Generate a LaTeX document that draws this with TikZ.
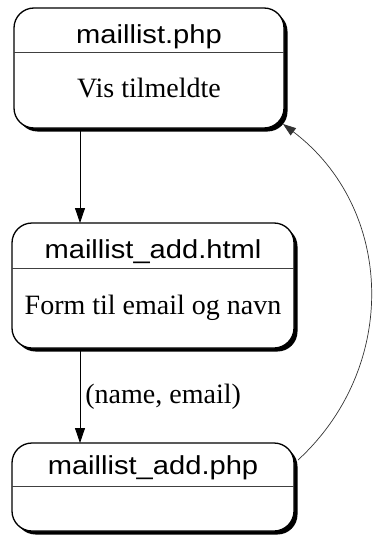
\documentclass[tikz,border=0pt]{standalone}
\usepackage{fontspec}
\setmainfont{Liberation Serif}
\newfontfamily\titlefont[FakeStretch=1.12]{Liberation Sans}
\usetikzlibrary{arrows.meta,shadows,calc}
\tikzset{
  statebox/.style={draw=black, line width=1.3pt, rounded corners=20pt, fill=white,
    inner sep=0pt, outer sep=0pt,
    drop shadow={shadow xshift=3.5pt, shadow yshift=-3.5pt, opacity=1, fill=black}},
  divider/.style={draw=black!75, line width=0.8pt},
  titletext/.style={font=\titlefont\fontsize{26}{30}\selectfont, inner sep=0pt},
  bodytext/.style={font=\fontsize{28}{32}\selectfont, inner sep=0pt},
  arr/.style={draw=black, line width=0.8pt, -{Triangle[length=15pt,width=10pt]}},
  curvearr/.style={draw=black!80, line width=0.7pt, -{Triangle[length=13pt,width=9pt]}}
}
\begin{document}
\begin{tikzpicture}[x=1pt,y=-1pt]
\useasboundingbox (0,0) rectangle (375,535);
% boxes
\node[statebox, minimum width=270pt, minimum height=120pt] (b1) at (149,68) {};
\node[statebox, minimum width=282pt, minimum height=125pt] (b2) at (153,285.5) {};
\node[statebox, minimum width=282pt, minimum height=88pt] (b3) at (153,487) {};
% dividers
\draw[divider] ($(b1.north west)+(0,44)$) -- ($(b1.north east)+(0,44)$);
\draw[divider] ($(b2.north west)+(0,45)$) -- ($(b2.north east)+(0,45)$);
\draw[divider] ($(b3.north west)+(0,43)$) -- ($(b3.north east)+(0,43)$);
% texts
\node[titletext] (t1) at (149,37) {maillist.php};
\node[bodytext] (d1) at (149,88) {Vis tilmeldte};
\node[titletext] (t2) at (153,252) {maillist\_add.html};
\node[bodytext] (d2) at (153,308) {Form til email og navn};
\node[titletext] (t3) at (153,468) {maillist\_add.php};
% connectors
\coordinate (ax) at (80,0);
\draw[arr] (b1.south -| ax) ++(0,2) -- (b2.north -| ax);
\draw[arr] (b2.south -| ax) ++(0,2) -- (b3.north -| ax)
  node[pos=0.5, right=5pt, bodytext, font=\fontsize{28}{32}\selectfont] (lbl) {(name, email)};
\coordinate (cs) at ($(b3.north east)+(4,17)$);
\coordinate (ce) at ($(b1.south east)+(-1,-4)$);
\draw[curvearr] (cs) .. controls (400,366) and (394,208) .. (ce);
\end{tikzpicture}
\end{document}
